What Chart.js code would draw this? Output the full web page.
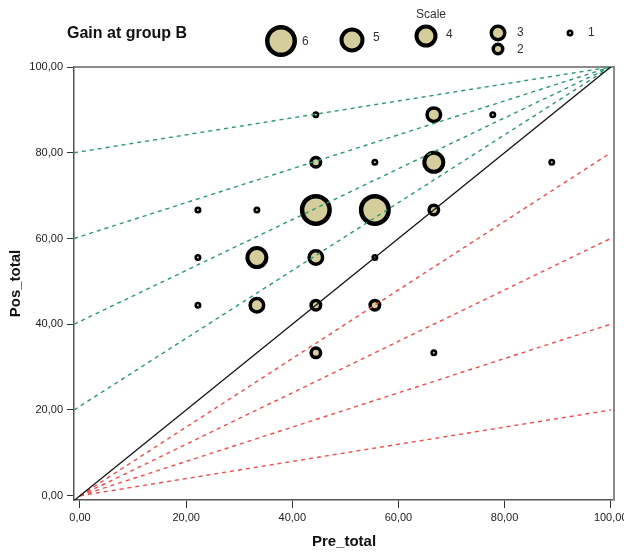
<!DOCTYPE html>
<html>
<head>
<meta charset="utf-8">
<script src="https://cdn.jsdelivr.net/npm/chart.js@4.4.0/dist/chart.umd.min.js"></script>
<style>
  html, body { margin: 0; padding: 0; background: #fff; }
  canvas { display: block; }
</style>
</head>
<body>
<canvas id="gainChart" width="624" height="552"></canvas>
<script>
// one bubble per (Pre_total, Pos_total) pair, sized by how many cases sit on it
const preTotal  = [44.44, 66.67, 77.78, 44.44, 55.56, 66.67, 88.89, 22.22, 33.33, 44.44, 55.56, 66.67, 22.22, 33.33, 44.44, 55.56, 22.22, 33.33, 44.44, 55.56, 44.44, 66.67];
const posTotal  = [88.89, 88.89, 88.89, 77.78, 77.78, 77.78, 77.78, 66.67, 66.67, 66.67, 66.67, 66.67, 55.56, 55.56, 55.56, 55.56, 44.44, 44.44, 44.44, 44.44, 33.33, 33.33];
const caseCount = [1, 3, 1, 2, 1, 4, 1, 1, 1, 6, 6, 2, 1, 4, 3, 1, 1, 3, 2, 2, 2, 1];

// axis range and ticks
const xRange = [-1.13, 100.62];
const yRange = [-1.0, 100];
const tickValues = [0, 20, 40, 60, 80, 100];

// reference lines
const identityX = [-1.13, 100];          // y = x
const gainStartY = [20, 40, 60, 80];     // from (0, y) up to (100, 100)
const lossEndY = [80, 60, 40, 20];       // from (0, 0) to (100, y)

// legend "Scale" entries
const scaleLevels = [6, 5, 4, 3, 2, 1];

const FONT = '"Liberation Sans", Arial, sans-serif';
const TAN = '#d5cd9b';

// [radius, border width] per case count
const ringStyle = {
    1: [2.25, 2.5],
    2: [4.75, 3.5],
    3: [6.75, 3.5],
    4: [9.5, 4],
    5: [10.5, 4],
    6: [13.75, 4.5]
};

const bubbleData = preTotal.map((x, i) => ({ x: x, y: posTotal[i], r: ringStyle[caseCount[i]][0], n: caseCount[i] }));

const lineSet = (pts, color, dash, width) => ({
    type: 'line',
    data: pts,
    borderColor: color,
    borderWidth: width,
    borderDash: dash,
    pointRadius: 0,
    fill: false,
    tension: 0,
    clip: 0,
    order: 0
});

const datasets = [{
    type: 'bubble',
    data: bubbleData,
    backgroundColor: TAN,
    borderColor: '#000',
    borderWidth: (ctx) => ctx.raw ? ringStyle[ctx.raw.n][1] : 2,
    order: 1
}];

datasets.push(lineSet(identityX.map(v => ({ x: v, y: v })), '#111', [], 1.3));
gainStartY.forEach(y0 => {
    datasets.push(lineSet([{ x: xRange[0], y: y0 }, { x: 100, y: 100 }], '#2b9a6b', [4, 4], 1.4));
});
lossEndY.forEach(y1 => {
    datasets.push(lineSet([{ x: 0, y: 0 }, { x: 100, y: y1 }], '#f04c4c', [4, 4], 1.4));
});

const fmt = v => v.toFixed(2).replace('.', ',');

// title, frame, x tick labels and the size legend
const decorations = {
    id: 'decorations',
    beforeDatasetsDraw(chart) {
        const { ctx, chartArea: a } = chart;
        ctx.save();
        ctx.strokeStyle = '#8a8a8a';
        ctx.lineWidth = 2;
        ctx.beginPath();
        ctx.moveTo(a.left, a.top);
        ctx.lineTo(a.right, a.top);
        ctx.lineTo(a.right, a.bottom);
        ctx.stroke();
        ctx.restore();
    },
    afterDraw(chart) {
        const ctx = chart.ctx;
        ctx.save();

        // x tick labels (drawn here so the last one may run off the canvas like the original)
        const xs = chart.scales.x;
        ctx.font = '11px ' + FONT;
        ctx.fillStyle = '#222';
        ctx.textAlign = 'center';
        ctx.textBaseline = 'middle';
        tickValues.forEach(v => ctx.fillText(fmt(v), xs.getPixelForValue(v), 518));

        ctx.fillStyle = '#111';
        ctx.textAlign = 'left';
        ctx.font = 'bold 16px ' + FONT;
        ctx.fillText('Gain at group B', 67, 34);

        ctx.font = '12px ' + FONT;
        ctx.fillStyle = '#333';
        ctx.textAlign = 'center';
        ctx.fillText('Scale', 431, 15);

        const spots = { 6: [281, 41, 302, 42], 5: [352, 40, 373, 38], 4: [426, 36, 446, 35], 3: [498, 33, 517, 33], 2: [498, 49, 517, 50], 1: [570, 33, 588, 33] };
        ctx.textAlign = 'left';
        scaleLevels.forEach(lv => {
            const [cx, cy, tx, ty] = spots[lv];
            const [r, w] = ringStyle[lv];
            ctx.beginPath();
            ctx.arc(cx, cy, r, 0, Math.PI * 2);
            ctx.fillStyle = TAN;
            ctx.fill();
            ctx.lineWidth = w;
            ctx.strokeStyle = '#000';
            ctx.stroke();
            ctx.fillStyle = '#333';
            ctx.fillText(String(lv), tx, ty);
        });
        ctx.restore();
    }
};

new Chart(document.getElementById('gainChart'), {
    type: 'bubble',
    data: { datasets: datasets },
    options: {
        responsive: false,
        animation: false,
        devicePixelRatio: 1,
        layout: { autoPadding: false, padding: { top: 67, right: 10, left: 0, bottom: 0 } },
        plugins: { legend: { display: false }, tooltip: { enabled: false } },
        scales: {
            x: {
                type: 'linear',
                min: xRange[0],
                max: xRange[1],
                afterBuildTicks: s => { s.ticks = tickValues.map(v => ({ value: v })); },
                afterFit: s => { s.height = 52; },
                ticks: { display: false },
                grid: { drawOnChartArea: false, drawTicks: true, tickLength: 8, color: '#333' },
                border: { color: '#555', width: 1.5 },
                title: { display: true, text: 'Pre_total', color: '#111', font: { family: FONT, size: 15, weight: 'bold' }, padding: { top: 0, bottom: 1 } }
            },
            y: {
                type: 'linear',
                min: yRange[0],
                max: yRange[1],
                afterBuildTicks: s => { s.ticks = tickValues.map(v => ({ value: v })); },
                afterFit: s => { s.width = 74; s.paddingTop = 0; s.paddingBottom = 0; },
                ticks: { font: { family: FONT, size: 11 }, color: '#222', callback: fmt, padding: 4 },
                grid: { drawOnChartArea: false, drawTicks: true, tickLength: 7, color: '#333' },
                border: { color: '#555', width: 1.5 },
                title: { display: true, text: 'Pos_total', color: '#111', font: { family: FONT, size: 15, weight: 'bold' }, padding: { top: 7, bottom: 0 } }
            }
        }
    },
    plugins: [decorations]
});
</script>
</body>
</html>
